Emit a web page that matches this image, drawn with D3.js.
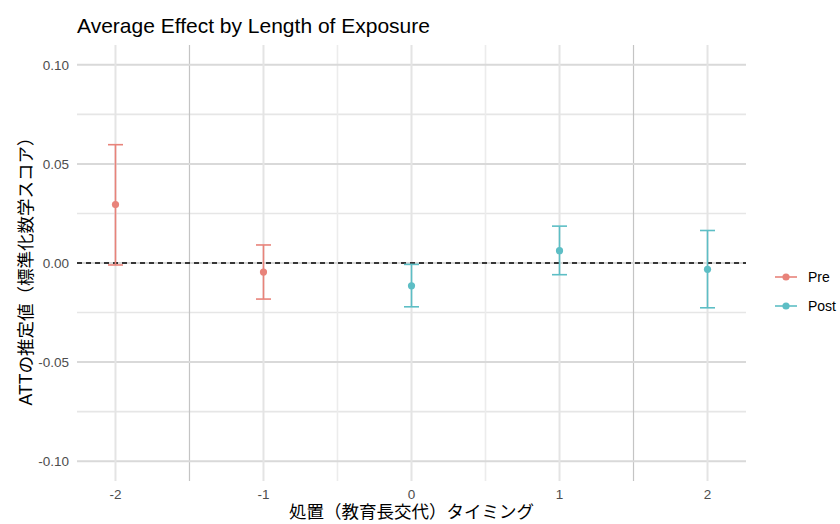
<!DOCTYPE html>
<html>
<head>
<meta charset="utf-8">
<script src="https://cdn.jsdelivr.net/npm/d3@7"></script>
<style>
  body { margin: 0; background: #fff; }
  svg text { font-family: "Liberation Sans", "Noto Sans CJK JP", sans-serif; }
</style>
</head>
<body>
<svg id="chart" width="840" height="524"></svg>
<script>
// event-time data
const periods   = [-2, -1, 0, 1, 2];
const groups    = ['Pre', 'Pre', 'Post', 'Post', 'Post'];
const estimates = [0.0295, -0.0046, -0.0115, 0.0062, -0.0032];
const upper     = [0.0597, 0.0091, -0.0007, 0.0186, 0.0164];
const lower     = [-0.0010, -0.0182, -0.0221, -0.0059, -0.0226];

const yTicks = [0.10, 0.05, 0.00, -0.05, -0.10];
const yMinor = [0.075, 0.025, -0.025, -0.075];
const xMinor = [-1.5, -0.5, 0.5, 1.5];
const legendKeys = ['Pre', 'Post'];

const COLORS = { Pre: '#E8837A', Post: '#5DBEC5' };

const W = 840, H = 524;
const panel = { left: 77, right: 746, top: 45, bottom: 481 };

const svg = d3.select('#chart');

const x = d3.scaleLinear().domain([-2.26, 2.26]).range([panel.left, panel.right]);
const y = d3.scaleLinear().domain([-0.11, 0.11]).range([panel.bottom, panel.top]);

const grid = svg.append('g');

// minor grid
grid.selectAll('.ymin').data(yMinor).join('line')
  .attr('x1', panel.left).attr('x2', panel.right)
  .attr('y1', d => y(d)).attr('y2', d => y(d))
  .attr('stroke', '#e6e6e6').attr('stroke-width', 1.6);
grid.selectAll('.xmin').data(xMinor).join('line')
  .attr('y1', panel.top).attr('y2', panel.bottom)
  .attr('x1', d => x(d)).attr('x2', d => x(d))
  .attr('stroke', d => Math.abs(d) === 1.5 ? '#c4c4c4' : '#ececec')
  .attr('stroke-width', d => Math.abs(d) === 1.5 ? 1.2 : 1.6);

// major grid
grid.selectAll('.ymaj').data(yTicks).join('line')
  .attr('x1', panel.left).attr('x2', panel.right)
  .attr('y1', d => y(d)).attr('y2', d => y(d))
  .attr('stroke', '#d9d9d9').attr('stroke-width', 2);
grid.selectAll('.xmaj').data(periods).join('line')
  .attr('y1', panel.top).attr('y2', panel.bottom)
  .attr('x1', d => x(d)).attr('x2', d => x(d))
  .attr('stroke', '#e4e4e4').attr('stroke-width', 2);

// zero reference line
svg.append('line')
  .attr('x1', panel.left).attr('x2', panel.right)
  .attr('y1', y(0)).attr('y2', y(0))
  .attr('stroke', '#000').attr('stroke-width', 1.4)
  .attr('stroke-dasharray', '5,4');

// error bars
const capW = 7.5;
const bars = svg.append('g').selectAll('g').data(periods).join('g')
  .attr('stroke', (d, i) => COLORS[groups[i]])
  .attr('stroke-width', 1.6);
bars.append('line')
  .attr('x1', d => x(d)).attr('x2', d => x(d))
  .attr('y1', (d, i) => y(upper[i])).attr('y2', (d, i) => y(lower[i]));
bars.append('line')
  .attr('x1', d => x(d) - capW).attr('x2', d => x(d) + capW)
  .attr('y1', (d, i) => y(upper[i])).attr('y2', (d, i) => y(upper[i]));
bars.append('line')
  .attr('x1', d => x(d) - capW).attr('x2', d => x(d) + capW)
  .attr('y1', (d, i) => y(lower[i])).attr('y2', (d, i) => y(lower[i]));

// points
svg.append('g').selectAll('circle').data(periods).join('circle')
  .attr('cx', d => x(d))
  .attr('cy', (d, i) => y(estimates[i]))
  .attr('r', 3.6)
  .attr('fill', (d, i) => COLORS[groups[i]]);

// axes (text only)
const fmt = v => d3.format('.2f')(v).replace('\u2212', '-');
svg.append('g').selectAll('text').data(yTicks).join('text')
  .attr('x', 69).attr('y', d => y(d)).attr('dy', '0.35em')
  .attr('text-anchor', 'end')
  .attr('font-size', 13.5).attr('fill', '#4d4d4d')
  .text(fmt);

svg.append('g').selectAll('text').data(periods).join('text')
  .attr('x', d => x(d)).attr('y', 499)
  .attr('text-anchor', 'middle')
  .attr('font-size', 13.5).attr('fill', '#4d4d4d')
  .text(d => String(d));

// titles
svg.append('text')
  .attr('x', 77).attr('y', 33)
  .attr('font-size', 21).attr('fill', '#000')
  .text('Average Effect by Length of Exposure');

svg.append('text')
  .attr('x', (panel.left + panel.right) / 2).attr('y', 518)
  .attr('text-anchor', 'middle')
  .attr('font-size', 17.5).attr('fill', '#000')
  .text('処置（教育長交代）タイミング');

svg.append('text')
  .attr('transform', `translate(32,${(panel.top + panel.bottom) / 2 + 4}) rotate(-90)`)
  .attr('text-anchor', 'middle')
  .attr('font-size', 17.5).attr('fill', '#000')
  .text('ATTの推定値（標準化数学スコア）');

// legend
const legend = svg.append('g').selectAll('g').data(legendKeys).join('g')
  .attr('transform', (d, i) => `translate(786,${277 + i * 29})`);
legend.append('line')
  .attr('x1', -11).attr('x2', 11)
  .attr('stroke', d => COLORS[d]).attr('stroke-width', 1.6);
legend.append('circle')
  .attr('r', 3.6).attr('fill', d => COLORS[d]);
legend.append('text')
  .attr('x', 22).attr('dy', '0.35em')
  .attr('font-size', 14).attr('fill', '#000')
  .text(d => d);
</script>
</body>
</html>
